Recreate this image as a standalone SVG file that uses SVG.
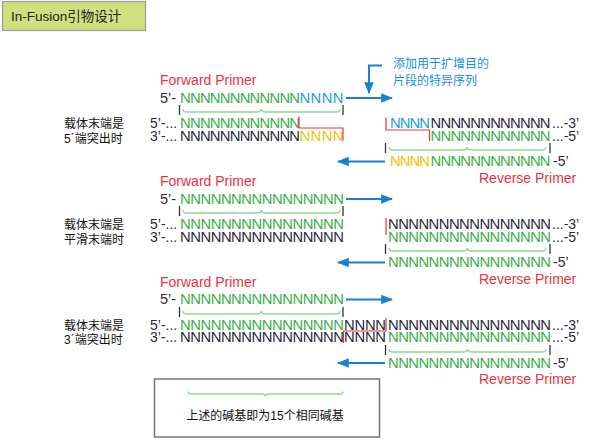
<svg xmlns="http://www.w3.org/2000/svg" width="604" height="442" viewBox="0 0 604 442">
<style>
text{font-family:"Liberation Sans",Arial,"Noto Sans CJK SC",sans-serif}
.n{font-size:14.8px}
.g{fill:#3aae4a}
.b{fill:#1ba0e0}
.y{fill:#f5c200}
.k{fill:#2a2a3c}
.lab{font-size:14.5px;fill:#2a2a3c}
.end{font-size:14px;fill:#2a2a3c}
.pr{font-size:14px;fill:#ea3340}
.cn{font-size:12px;fill:#111}
.cnb{font-size:12px;fill:#1a8fd8}
.tick{stroke:#333;stroke-width:1.3}
.brace{fill:none;stroke:#8ed88e;stroke-width:1.3}
.red{fill:none;stroke:#ea3340;stroke-width:1.2}
.arr{stroke:#1a80d0;stroke-width:2;fill:none}
</style>
<defs>
<marker id="ah" viewBox="0 0 10 10" refX="9" refY="5" markerWidth="6" markerHeight="6" markerUnits="strokeWidth" orient="auto">
<path d="M0,1 L10,5 L0,9 Z" fill="#1a80d0"/>
</marker>
</defs>

<g id="title">
<rect x="2.5" y="1.5" width="143" height="29" fill="#d0e07e" stroke="#9a9a9a" stroke-width="1.2"/>
<text x="11" y="21" font-size="13.5" fill="#222">In-Fusion引物设计</text>
</g>

<g id="connectors">
<line class="arr" x1="346" y1="98" x2="392" y2="98" marker-end="url(#ah)"/>
<path class="arr" d="M382,65.5 H369 V93" marker-end="url(#ah)"/>
<line class="arr" x1="385" y1="161.5" x2="338" y2="161.5" marker-end="url(#ah)"/>
<line class="arr" x1="346" y1="199" x2="392" y2="199" marker-end="url(#ah)"/>
<line class="arr" x1="385" y1="262.5" x2="338" y2="262.5" marker-end="url(#ah)"/>
<line class="arr" x1="346" y1="299.5" x2="392" y2="299.5" marker-end="url(#ah)"/>
<line class="arr" x1="385" y1="363" x2="338" y2="363" marker-end="url(#ah)"/>
</g>

<g id="note">
<text class="cnb" x="393" y="67.5">添加用于扩增目的</text>
<text class="cnb" x="393" y="84.5">片段的特异序列</text>
</g>

<g id="section1">
<text class="pr" x="160" y="84.5">Forward Primer</text>
<text class="lab" x="160" y="103">5’-</text>
<text class="n g" x="180" y="103" textLength="120" lengthAdjust="spacing">NNNNNNNNNNNN</text>
<text class="n b" x="299.5" y="103" textLength="44" lengthAdjust="spacing">NNNN</text>
<line class="tick" x1="179.5" y1="105" x2="179.5" y2="115"/>
<line class="tick" x1="343" y1="105" x2="343" y2="115"/>
<path class="brace" d="M183,109 Q183,112 187,112 H258 Q261,112 261.5,109 Q262,112 265,112 H336 Q340,112 340,109"/>
<text class="cn" x="64" y="128">载体末端是</text>
<text class="cn" x="64" y="142.5">5´端突出时</text>
<text class="end" x="150" y="127.5">5’-...</text>
<text class="n g" x="180" y="127.5" textLength="120" lengthAdjust="spacing">NNNNNNNNNNNN</text>
<text class="end" x="150" y="140.5">3’-...</text>
<text class="n k" x="180" y="140.5" textLength="120" lengthAdjust="spacing">NNNNNNNNNNNN</text>
<text class="n y" x="299.5" y="140.5" textLength="44" lengthAdjust="spacing">NNNN</text>
<path class="red" d="M299,116.5 V128 H343 V140.5"/>
<path class="red" d="M386,117.5 V130 H429.5 V141"/>
<text class="n b" x="390" y="127.5" textLength="40" lengthAdjust="spacing">NNNN</text>
<text class="n k" x="430.5" y="127.5" textLength="120" lengthAdjust="spacing">NNNNNNNNNNNN</text>
<text class="end" x="552" y="127.5">...-3’</text>
<text class="n g" x="430.5" y="140.5" textLength="120" lengthAdjust="spacing">NNNNNNNNNNNN</text>
<text class="end" x="552" y="140.5">...-5’</text>
<line class="tick" x1="385.5" y1="143" x2="385.5" y2="153"/>
<line class="tick" x1="550" y1="143" x2="550" y2="153"/>
<path class="brace" d="M389,147 Q389,150 393,150 H464 Q467,150 467.5,147 Q468,150 471,150 H542 Q546,150 546,147"/>
<text class="n y" x="390" y="165.5" textLength="40" lengthAdjust="spacing">NNNN</text>
<text class="n g" x="430.5" y="165.5" textLength="120" lengthAdjust="spacing">NNNNNNNNNNNN</text>
<text class="end" x="553" y="165.5">-5’</text>
<text class="pr" x="479" y="182.5">Reverse Primer</text>
</g>

<g id="section2">
<text class="pr" x="160" y="185.5">Forward Primer</text>
<text class="lab" x="160" y="204">5’-</text>
<text class="n g" x="180" y="204" textLength="164" lengthAdjust="spacing">NNNNNNNNNNNNNNNN</text>
<line class="tick" x1="179.5" y1="206" x2="179.5" y2="216"/>
<line class="tick" x1="343" y1="206" x2="343" y2="216"/>
<path class="brace" d="M183,210 Q183,213 187,213 H258 Q261,213 261.5,210 Q262,213 265,213 H336 Q340,213 340,210"/>
<text class="cn" x="64" y="228.5">载体末端是</text>
<text class="cn" x="64" y="243.5">平滑末端时</text>
<text class="end" x="150" y="228.5">5’-...</text>
<text class="n g" x="180" y="228.5" textLength="164" lengthAdjust="spacing">NNNNNNNNNNNNNNNN</text>
<text class="end" x="150" y="241.5">3’-...</text>
<text class="n k" x="180" y="241.5" textLength="164" lengthAdjust="spacing">NNNNNNNNNNNNNNNN</text>
<line x1="386" y1="218" x2="386" y2="235" stroke="#ea3340" stroke-width="1.2"/>
<text class="n k" x="388" y="228.5" textLength="163" lengthAdjust="spacing">NNNNNNNNNNNNNNNN</text>
<text class="end" x="552" y="228.5">...-3’</text>
<text class="n g" x="388" y="241.5" textLength="163" lengthAdjust="spacing">NNNNNNNNNNNNNNNN</text>
<text class="end" x="552" y="241.5">...-5’</text>
<line class="tick" x1="385.5" y1="244" x2="385.5" y2="254"/>
<line class="tick" x1="550" y1="244" x2="550" y2="254"/>
<path class="brace" d="M389,248 Q389,251 393,251 H464 Q467,251 467.5,248 Q468,251 471,251 H542 Q546,251 546,248"/>
<text class="n g" x="388" y="267" textLength="163" lengthAdjust="spacing">NNNNNNNNNNNNNNNN</text>
<text class="end" x="553" y="267">-5’</text>
<text class="pr" x="479" y="283.5">Reverse Primer</text>
</g>

<g id="section3">
<text class="pr" x="160" y="286.5">Forward Primer</text>
<text class="lab" x="160" y="304">5’-</text>
<text class="n g" x="180" y="304" textLength="164" lengthAdjust="spacing">NNNNNNNNNNNNNNNN</text>
<line class="tick" x1="179.5" y1="307" x2="179.5" y2="317"/>
<line class="tick" x1="343" y1="307" x2="343" y2="317"/>
<path class="brace" d="M183,311 Q183,314 187,314 H258 Q261,314 261.5,311 Q262,314 265,314 H336 Q340,314 340,311"/>
<text class="cn" x="64" y="329.5">载体末端是</text>
<text class="cn" x="64" y="344">3´端突出时</text>
<text class="end" x="150" y="329.5">5’-...</text>
<text class="n g" x="180" y="329.5" textLength="164" lengthAdjust="spacing">NNNNNNNNNNNNNNNN</text>
<text class="n k" x="344" y="329.5" textLength="42" lengthAdjust="spacing">NNNN</text>
<text class="n k" x="388" y="329.5" textLength="163" lengthAdjust="spacing">NNNNNNNNNNNNNNNN</text>
<text class="end" x="552" y="329.5">...-3’</text>
<text class="end" x="150" y="342">3’-...</text>
<text class="n k" x="180" y="342" textLength="164" lengthAdjust="spacing">NNNNNNNNNNNNNNNN</text>
<text class="n k" x="344" y="342" textLength="42" lengthAdjust="spacing">NNNN</text>
<text class="n g" x="388" y="342" textLength="163" lengthAdjust="spacing">NNNNNNNNNNNNNNNN</text>
<text class="end" x="552" y="342">...-5’</text>
<path class="red" d="M386,318 V331 H343.5 V343"/>
<line class="tick" x1="385.5" y1="345" x2="385.5" y2="355"/>
<line class="tick" x1="550" y1="345" x2="550" y2="355"/>
<path class="brace" d="M389,349 Q389,352 393,352 H464 Q467,352 467.5,349 Q468,352 471,352 H542 Q546,352 546,349"/>
<text class="n g" x="388" y="367.5" textLength="163" lengthAdjust="spacing">NNNNNNNNNNNNNNNN</text>
<text class="end" x="553" y="367.5">-5’</text>
<text class="pr" x="479" y="383.5">Reverse Primer</text>
</g>

<g id="legend">
<rect x="154.5" y="379" width="225" height="58" fill="#fff" stroke="#777" stroke-width="1.5"/>
<path class="brace" d="M188,391.5 Q188,394 191,394 H262 Q265,394 265.5,396 Q266,394 269,394 H340 Q343,394 343,391.5"/>
<text class="cn" x="265" y="420" text-anchor="middle">上述的碱基即为15个相同碱基</text>
</g>
</svg>
